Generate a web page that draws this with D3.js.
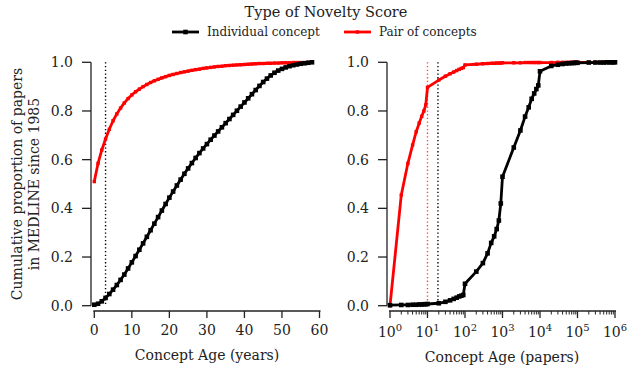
<!DOCTYPE html>
<html lang="en">
  <head>
    <meta charset="UTF-8" />
    <title>Concept Age CDF</title>
    <style>
      body { margin: 0; background: #fff; }
      text { font-family: "DejaVu Serif", serif; fill: #222; }
    </style>
  </head>
  <body>
    <script src="https://cdn.jsdelivr.net/npm/d3@7"></script>
    <script>
      // left panel: concept age in years
      var years = [0,1,2,3,4,5,6,7,8,9,10,11,12,13,14,15,16,17,18,19,20,21,22,23,24,25,26,27,28,29,
                   30,31,32,33,34,35,36,37,38,39,40,41,42,43,44,45,46,47,48,49,50,51,52,53,54,55,56,57,58];
      var indivYears = [0.004,0.008,0.018,0.032,0.048,0.066,0.085,0.106,0.128,0.153,0.178,0.204,0.23,0.256,0.283,
                        0.31,0.337,0.364,0.391,0.418,0.444,0.469,0.494,0.518,0.542,0.564,0.586,0.607,0.627,0.646,
                        0.664,0.682,0.699,0.716,0.733,0.75,0.767,0.784,0.801,0.818,0.835,0.852,0.869,0.886,0.903,
                        0.919,0.933,0.946,0.957,0.966,0.973,0.979,0.984,0.988,0.991,0.994,0.996,0.998,1.0];
      var pairYears = [0.51,0.585,0.64,0.685,0.725,0.76,0.788,0.812,0.833,0.851,0.866,0.879,0.89,0.9,0.909,
                       0.917,0.924,0.93,0.936,0.941,0.946,0.95,0.954,0.958,0.961,0.964,0.967,0.97,0.972,0.975,
                       0.977,0.979,0.981,0.983,0.984,0.986,0.987,0.988,0.989,0.99,0.991,0.992,0.993,0.994,0.995,
                       0.995,0.996,0.996,0.997,0.997,0.998,0.998,0.998,0.999,0.999,0.999,0.999,1.0,1.0];

      // right panel: concept age in papers
      var papers = [1,2,3,4,5,6,7,8,9,10,20,30,40,50,60,70,80,90,100,
                    200,300,400,500,600,700,800,900,1000,
                    2000,3000,4000,5000,6000,7000,8000,9000,10000,
                    20000,30000,40000,50000,60000,70000,80000,90000,100000,
                    200000,300000,400000,500000,600000,700000,800000,900000,1000000];
      var indivPapers = [0.002,0.003,0.003,0.004,0.004,0.005,0.005,0.006,0.006,0.007,
                         0.01,0.016,0.022,0.028,0.033,0.038,0.041,0.044,0.09,
                         0.14,0.175,0.215,0.258,0.285,0.315,0.35,0.42,0.53,
                         0.65,0.72,0.777,0.815,0.85,0.872,0.89,0.905,0.963,
                         0.985,0.99,0.993,0.995,0.996,0.997,0.997,0.998,0.998,
                         0.999,0.999,0.999,0.999,1.0,1.0,1.0,1.0,1.0];
      var pairPapers = [0.0,0.455,0.585,0.66,0.715,0.75,0.778,0.8,0.825,0.897,
                        0.927,0.943,0.953,0.96,0.966,0.971,0.975,0.978,0.989,
                        0.992,0.994,0.995,0.996,0.996,0.997,0.997,0.997,0.998,
                        0.998,0.998,0.999,0.999,0.999,0.999,0.999,0.999,0.999,
                        0.999,1.0,1.0,1.0,1.0,1.0,1.0,1.0,1.0,
                        1.0,1.0,1.0,1.0,1.0,1.0,1.0,1.0,1.0];

      var yTicks = [0, 0.2, 0.4, 0.6, 0.8, 1.0];
      var yearTicks = [0, 10, 20, 30, 40, 50, 60];
      var paperTicks = [1, 10, 100, 1000, 10000, 100000, 1000000];

      var medianYears = 3;                // dotted black line, left
      var medianPapers = {pair: 10, indiv: 19};

      var series = [
        {name: "Individual concept", color: "#000"},
        {name: "Pair of concepts", color: "#f00"}
      ];

      var w = 640, h = 376;
      var svg = d3.select("body").append("svg")
                  .attr("width", w)
                  .attr("height", h);

      var y = d3.scaleLinear().domain([0, 1]).range([305.7, 62.3]);
      var xLeft = d3.scaleLinear().domain([0, 60]).range([94.3, 319.5]);
      var xRight = d3.scaleLog().domain([1, 1e6]).range([390, 615]);

      var spineY = 311;

      function drawYAxis(xPos) {
        var g = svg.append("g").attr("transform", "translate(" + xPos + ",0)");
        g.append("line").attr("y1", y(0)).attr("y2", y(1))
         .attr("stroke", "#222").attr("stroke-width", 1.3);
        yTicks.forEach(function(t) {
          g.append("line").attr("x1", -9).attr("x2", 0)
           .attr("y1", y(t)).attr("y2", y(t))
           .attr("stroke", "#222").attr("stroke-width", 1.3);
          g.append("text").attr("x", -18).attr("y", y(t)).attr("dy", "0.35em")
           .attr("text-anchor", "end").style("font-size", "14px")
           .text(t.toFixed(1));
        });
      }

      drawYAxis(91);
      drawYAxis(387);

      // left x axis
      var gl = svg.append("g");
      gl.append("line").attr("x1", xLeft(0) - 1).attr("x2", xLeft(60) + 1)
        .attr("y1", spineY).attr("y2", spineY)
        .attr("stroke", "#222").attr("stroke-width", 1.3);
      yearTicks.forEach(function(t) {
        gl.append("line").attr("x1", xLeft(t)).attr("x2", xLeft(t))
          .attr("y1", spineY).attr("y2", spineY + 7)
          .attr("stroke", "#222").attr("stroke-width", 1.3);
        gl.append("text").attr("x", xLeft(t)).attr("y", 335)
          .attr("text-anchor", "middle").style("font-size", "14px").text(t);
      });
      gl.append("text").attr("x", 207).attr("y", 360)
        .attr("text-anchor", "middle").style("font-size", "14px")
        .text("Concept Age (years)");

      // right x axis, log
      var gr = svg.append("g");
      gr.append("line").attr("x1", xRight(1) - 1).attr("x2", xRight(1e6) + 1)
        .attr("y1", spineY).attr("y2", spineY)
        .attr("stroke", "#222").attr("stroke-width", 1.3);
      paperTicks.forEach(function(t, i) {
        gr.append("line").attr("x1", xRight(t)).attr("x2", xRight(t))
          .attr("y1", spineY).attr("y2", spineY + 7)
          .attr("stroke", "#222").attr("stroke-width", 1.3);
        var lab = gr.append("text").attr("x", xRight(t)).attr("y", 337)
          .attr("text-anchor", "middle").style("font-size", "14px");
        lab.append("tspan").text("10");
        lab.append("tspan").attr("dy", -6).style("font-size", "10px").text(i);
        if (i < paperTicks.length - 1) {
          for (var k = 2; k < 10; k++) {
            gr.append("line").attr("x1", xRight(t * k)).attr("x2", xRight(t * k))
              .attr("y1", spineY).attr("y2", spineY + 3.5)
              .attr("stroke", "#222").attr("stroke-width", 1);
          }
        }
      });
      gr.append("text").attr("x", 502).attr("y", 362)
        .attr("text-anchor", "middle").style("font-size", "14px")
        .text("Concept Age (papers)");

      // y label
      var yl = svg.append("text").attr("transform", "translate(22,184) rotate(-90)")
                  .attr("text-anchor", "middle").style("font-size", "14px");
      yl.append("tspan").attr("x", 0).attr("dy", 0).text("Cumulative proportion of papers");
      yl.append("tspan").attr("x", 0).attr("dy", 17).text("in MEDLINE since 1985");

      // dotted reference lines
      function vline(x, color) {
        svg.append("line").attr("x1", x).attr("x2", x)
           .attr("y1", y(1)).attr("y2", y(0))
           .attr("stroke", color).attr("stroke-width", 1.4)
           .attr("stroke-dasharray", "1.3,2.4");
      }
      vline(xLeft(medianYears), "#000");
      vline(xRight(medianPapers.pair), "#f44");
      vline(xRight(medianPapers.indiv), "#000");

      function drawSeries(xs, vals, xScale, s, isSquare) {
        var line = d3.line()
                     .x(function(d, i) { return xScale(xs[i]); })
                     .y(function(d) { return y(d); });
        svg.append("path").datum(vals)
           .attr("d", line).attr("fill", "none")
           .attr("stroke", s.color).attr("stroke-width", 2.8)
           .attr("stroke-linejoin", "round");
        svg.append("g").selectAll("rect").data(vals).enter().append("rect")
           .attr("x", function(d, i) { return xScale(xs[i]) - (isSquare ? 2.3 : 1.7); })
           .attr("y", function(d) { return y(d) - (isSquare ? 2.3 : 1.7); })
           .attr("width", isSquare ? 4.6 : 3.4)
           .attr("height", isSquare ? 4.6 : 3.4)
           .attr("fill", s.color);
      }

      drawSeries(years, pairYears, xLeft, series[1], false);
      drawSeries(years, indivYears, xLeft, series[0], true);
      drawSeries(papers, pairPapers, xRight, series[1], false);
      drawSeries(papers, indivPapers, xRight, series[0], true);

      // title + legend
      svg.append("text").attr("x", 326).attr("y", 17)
         .attr("text-anchor", "middle").style("font-size", "14.5px")
         .text("Type of Novelty Score");

      var legX = [172, 344];
      series.forEach(function(s, i) {
        var g = svg.append("g").attr("transform", "translate(" + legX[i] + ",32)");
        g.append("line").attr("x1", 0).attr("x2", 27)
         .attr("stroke", s.color).attr("stroke-width", 2.8);
        var m = i === 0 ? 4.6 : 3.4;
        g.append("rect").attr("x", 13.5 - m / 2).attr("y", -m / 2)
         .attr("width", m).attr("height", m).attr("fill", s.color);
        g.append("text").attr("x", 35).attr("dy", "0.35em")
         .style("font-size", "12px").text(s.name);
      });
    </script>
  </body>
</html>
